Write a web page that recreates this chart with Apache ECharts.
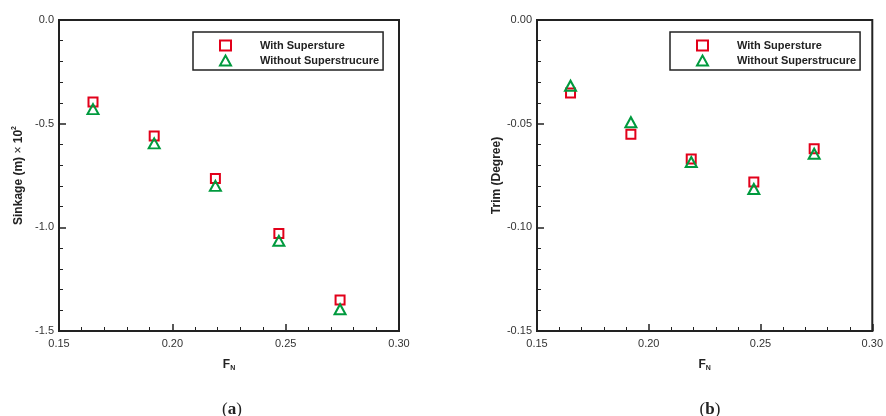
<!DOCTYPE html>
<html><head><meta charset="utf-8">
<script src="https://cdn.jsdelivr.net/npm/echarts@6/dist/echarts.min.js"></script>
<style>html,body{margin:0;padding:0;background:#fff}#c{width:886px;height:416px}</style>
</head><body><div id="c"></div>
<script>
// Froude numbers
var fn = [0.165, 0.192, 0.219, 0.247, 0.274];
// (a) Sinkage (m) x 10^2
var sinkWith = [-0.395, -0.56, -0.765, -1.03, -1.35];
var sinkWithout = [-0.43, -0.595, -0.80, -1.065, -1.395];
// (b) Trim (Degree)
var trimWith = [-0.0352, -0.0551, -0.0670, -0.0781, -0.0621];
var trimWithout = [-0.0317, -0.0493, -0.0685, -0.0815, -0.0645];
var nameWith = 'With Supersture';
var nameWithout = 'Without Superstrucure';
var xTicks = [0.15, 0.30, 0.05];
var sinkTicks = [-1.5, 0, 0.5];
var trimTicks = [-0.15, 0, 0.05];

function pairs(xs, ys){ return xs.map(function(x,i){ return [x, ys[i]]; }); }

var RED = '#e2001a', GREEN = '#009a3e', AX = '#222';
var font = 'Liberation Sans, Arial, sans-serif';

function xAxis(gi){
  return {
    type:'value', gridIndex:gi, min:xTicks[0], max:xTicks[1], interval:xTicks[2],
    name:'F{sub|N}', nameLocation:'middle', nameGap:26,
    nameTextStyle:{fontFamily:font, fontWeight:'bold', fontSize:12, color:'#222',
      rich:{sub:{fontFamily:font, fontWeight:'bold', fontSize:7, color:'#222', padding:[8,0,0,0]}}},
    axisLine:{show:true, onZero:false, lineStyle:{color:AX, width:2}},
    axisTick:{show:true, inside:true, length:7, lineStyle:{color:AX, width:1.5}},
    minorTick:{show:true, splitNumber:5, length:4, lineStyle:{color:AX, width:1}},
    splitLine:{show:false},
    axisLabel:{fontFamily:font, fontSize:11, color:'#333', margin:7,
      formatter:function(v){ return v.toFixed(2); }}
  };
}
function yAxis(gi, t, dec, name, gap){
  return {
    type:'value', gridIndex:gi, min:t[0], max:t[1], interval:t[2],
    name:name, nameLocation:'middle', nameGap:gap, nameRotate:90,
    nameTextStyle:{fontFamily:font, fontWeight:'bold', fontSize:12, color:'#222',
      rich:{sup:{fontFamily:font, fontWeight:'bold', fontSize:7, color:'#222', padding:[0,0,8,0]},
            n:{fontFamily:font, fontWeight:'normal', fontSize:12, color:'#222'}}},
    axisLine:{show:true, onZero:false, lineStyle:{color:AX, width:2}},
    axisTick:{show:true, inside:true, length:7, lineStyle:{color:AX, width:1.5}},
    minorTick:{show:true, splitNumber:5, length:4, lineStyle:{color:AX, width:1}},
    splitLine:{show:false},
    axisLabel:{fontFamily:font, fontSize:11, color:'#333', margin:5,
      formatter:function(v){ return v.toFixed(dec); }}
  };
}
function sq(gi, data){
  return {type:'scatter', name:nameWith, xAxisIndex:gi, yAxisIndex:gi, data:data,
    symbol:'rect', symbolSize:9, z:2,
    itemStyle:{color:'#fff', borderColor:RED, borderWidth:2, opacity:1}};
}
function tri(gi, data){
  return {type:'scatter', name:nameWithout, xAxisIndex:gi, yAxisIndex:gi, data:data,
    symbol:'triangle', symbolSize:[11,10], z:3,
    itemStyle:{color:'rgba(255,255,255,0)', borderColor:GREEN, borderWidth:2, opacity:1}};
}
function legend(left){
  return {
    left:left, top:32, orient:'vertical', selectedMode:false,
    data:[nameWith, nameWithout],
    itemWidth:11, itemHeight:10, itemGap:2,
    padding:[7,4,3,26], borderColor:AX, borderWidth:1.5, backgroundColor:'#fff',
    textStyle:{fontFamily:font, fontWeight:'bold', fontSize:11, color:'#222', lineHeight:13, padding:[0,0,0,24]}
  };
}

var chart = echarts.init(document.getElementById('c'), null, {renderer:'canvas'});
chart.setOption({
  animation:false,
  backgroundColor:'#fff',
  grid:[
    {left:59, top:20, width:340, height:311, show:true, borderColor:AX, borderWidth:2, backgroundColor:'transparent'},
    {left:537, top:20, width:339, height:311, show:true, borderColor:AX, borderWidth:2, backgroundColor:'transparent'}
  ],
  xAxis:[xAxis(0), xAxis(1)],
  yAxis:[
    yAxis(0, sinkTicks, 1, 'Sinkage (m) {n|×} 10{sup|2}', 33),
    yAxis(1, trimTicks, 2, 'Trim (Degree)', 33)
  ],
  legend:[legend(193), legend(670)],
  title:[
    {text:'({b|a})', left:227, top:396, textAlign:'center',
      textStyle:{fontFamily:'Liberation Serif, serif', fontSize:17, fontWeight:'normal', color:'#222',
        rich:{b:{fontFamily:'Liberation Serif, serif', fontSize:17, fontWeight:'bold', color:'#222'}}}},
    {text:'({b|b})', left:705, top:396, textAlign:'center',
      textStyle:{fontFamily:'Liberation Serif, serif', fontSize:17, fontWeight:'normal', color:'#222',
        rich:{b:{fontFamily:'Liberation Serif, serif', fontSize:17, fontWeight:'bold', color:'#222'}}}}
  ],
  series:[
    sq(0, pairs(fn, sinkWith)), tri(0, pairs(fn, sinkWithout)),
    sq(1, pairs(fn, trimWith)), tri(1, pairs(fn, trimWithout))
  ]
});
</script></body></html>
